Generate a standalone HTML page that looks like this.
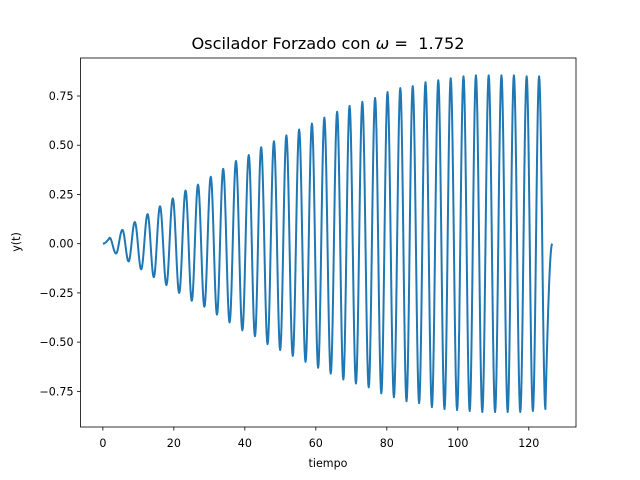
<!DOCTYPE html>
<html><head><meta charset="utf-8"><style>
html,body{margin:0;padding:0;background:#fff;}
svg{display:block;font-family:"DejaVu Sans","Liberation Sans",sans-serif;}
</style></head><body>
<svg id="chart" width="640" height="480" viewBox="0 0 640 480">
<rect width="640" height="480" fill="#fff"/>
<text x="328" y="49" font-size="16.2" text-anchor="middle">Oscilador Forzado con <tspan font-style="italic">ω</tspan> =&#160; 1.752</text>
<g id="plot"></g>
<rect x="80.5" y="58" width="495.5" height="369" fill="none" stroke="#000" stroke-width="0.8"/>
<text x="328" y="467" font-size="11.1" text-anchor="middle">tiempo</text>
<text transform="translate(20,242) rotate(-90)" font-size="11.1" text-anchor="middle">y(t)</text>
</svg>
<script>
const peakTimes=[1.9,5.5,9.0,12.6,16.1,19.7,23.3,26.8,30.4,33.9,37.5,41.1,44.6,48.2,51.7,55.3,58.9,62.4,66.0,69.5,73.1,76.7,80.2,83.8,87.3,90.9,94.5,98.0,101.6,105.1,108.7,112.3,115.8,119.4,122.9];
const peakValues=[0.03,0.07,0.11,0.15,0.19,0.23,0.27,0.30,0.34,0.38,0.42,0.45,0.49,0.52,0.55,0.58,0.61,0.64,0.67,0.70,0.72,0.74,0.77,0.79,0.80,0.82,0.83,0.84,0.85,0.855,0.855,0.855,0.855,0.85,0.85];
const troughValues=[-0.05,-0.09,-0.13,-0.17,-0.21,-0.25,-0.29,-0.32,-0.36,-0.40,-0.44,-0.47,-0.51,-0.54,-0.57,-0.60,-0.63,-0.66,-0.69,-0.71,-0.73,-0.76,-0.78,-0.80,-0.81,-0.83,-0.84,-0.845,-0.85,-0.855,-0.855,-0.855,-0.855,-0.85,-0.84];
const endTime=126.6;
const xTicks=[0,20,40,60,80,100,120];
const yTicks=[-0.75,-0.5,-0.25,0,0.25,0.5,0.75];
const yTickLabels=["−0.75","−0.50","−0.25","0.00","0.25","0.50","0.75"];

const L=80.5,R=576,T=58,B=427;
const xmin=-6.3,xmax=133.3,ymin=-0.931,ymax=0.943;
const X=t=>L+(t-xmin)/(xmax-xmin)*(R-L);
const Y=v=>B-(v-ymin)/(ymax-ymin)*(B-T);
const NS="http://www.w3.org/2000/svg";
const g=document.getElementById('plot');
function mk(tag,attrs){const e=document.createElementNS(NS,tag);for(const k in attrs)e.setAttribute(k,attrs[k]);g.appendChild(e);return e;}

xTicks.forEach(t=>{
  const l=mk('line',{x1:X(t),x2:X(t),y1:B,y2:B+3.5,stroke:'#000','stroke-width':0.8});
  
  
  const tx=mk('text',{x:X(t),y:B+20,'font-size':11.1,'text-anchor':'middle'});
  tx.textContent=t;
  
  
});
yTicks.forEach((v,i)=>{
  const l=mk('line',{x1:L-3.5,x2:L,y1:Y(v),y2:Y(v),stroke:'#000','stroke-width':0.8});
  
  
  const tx=mk('text',{x:L-7,y:Y(v)+4,'font-size':11.1,'text-anchor':'end'});
  tx.textContent=yTickLabels[i];
  
  
});

const ext=[[0,0]];
peakTimes.forEach((t,i)=>{
  ext.push([t,peakValues[i]]);
  const nt=i<peakTimes.length-1?(t+peakTimes[i+1])/2:Math.min(t+1.78,endTime-0.9);
  ext.push([nt,troughValues[i]]);
});
ext.push([endTime,0]);
let d='';
for(let i=0;i<ext.length-1;i++){
  const [t0,v0]=ext[i],[t1,v1]=ext[i+1];
  const n=14;
  for(let k=(i===0?0:1);k<=n;k++){
    const f=k/n;
    let s;
    if(i===0) s=1-Math.cos(f*Math.PI/2);
    else if(i===ext.length-2) s=Math.sin(f*Math.PI/2);
    else s=(1-Math.cos(f*Math.PI))/2;
    const t=t0+(t1-t0)*f,v=v0+(v1-v0)*s;
    d+=(d?'L':'M')+X(t).toFixed(2)+','+Y(v).toFixed(2);
  }
}
const p=mk('path',{d:d,fill:'none',stroke:'#1f77b4','stroke-width':2,'stroke-linejoin':'round'});


</script>
</body></html>
